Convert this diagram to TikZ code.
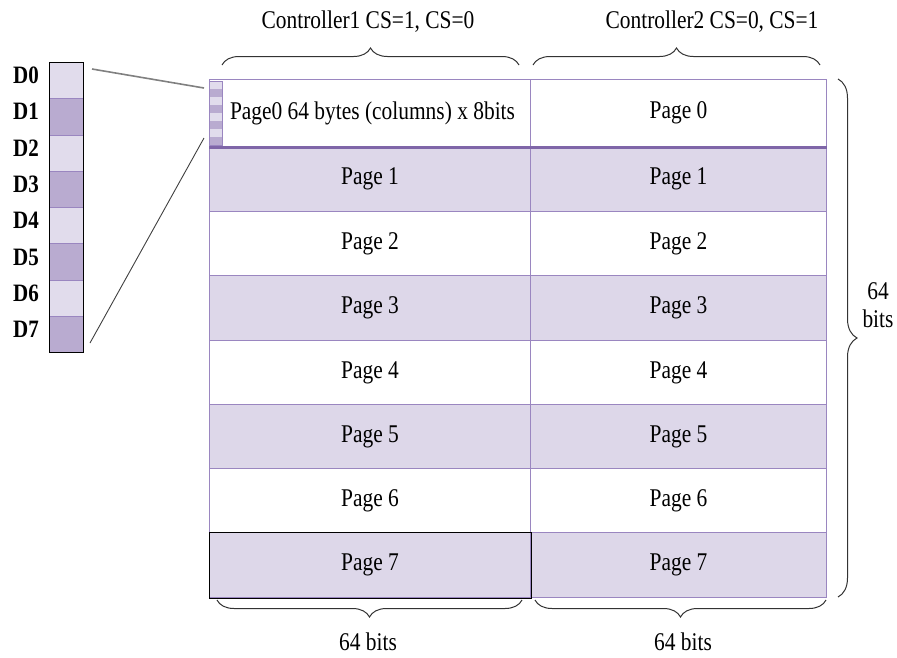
\documentclass[tikz,border=0pt]{standalone}
\usepackage{fontspec}
\setmainfont{Liberation Serif}[FakeStretch=0.84]
\usetikzlibrary{decorations.pathreplacing}
\definecolor{lightp}{HTML}{DDD7E9}
\definecolor{darkp}{HTML}{B9ABD0}
\definecolor{barlight}{HTML}{E1DCEC}
\definecolor{gridp}{HTML}{9A86C0}
\definecolor{thickp}{HTML}{7F66A8}
\definecolor{bracec}{HTML}{333333}
\begin{document}
\begin{tikzpicture}[x=1pt,y=-1pt,
  font=\fontsize{25.5}{28}\selectfont,
  cell/.style={draw=gridp, line width=1pt, anchor=north west, inner sep=0pt},
  barcell/.style={draw=gridp, line width=0.8pt, anchor=north west, inner sep=0pt, minimum width=34pt, minimum height=36.25pt},
  dlabel/.style={font=\fontsize{25}{28}\selectfont\bfseries},
  brace/.style={draw=bracec, line width=1pt, decoration={brace, amplitude=#1}, decorate},
  brace/.default=15pt,
  zoomline/.style={draw=#1}]
\useasboundingbox (0,0) rectangle (897,657);

% main grid
\node[cell, fill=white, minimum width=321pt, minimum height=67pt] (L0) at (209,79) {\hspace*{5pt}Page0 64 bytes (columns) x 8bits};
\node[cell, fill=white, minimum width=296pt, minimum height=67pt] (R0) at (530,79) {Page 0};
\foreach \i/\t/\b/\f in {1/146/211/lightp, 2/211/275/white, 3/275/340/lightp, 4/340/404/white, 5/404/468/lightp, 6/468/532/white, 7/532/597/lightp} {
  \node[cell, fill=\f, minimum width=321pt, minimum height={\b-\t}] (L\i) at (209,\t) {Page \i};
  \node[cell, fill=\f, minimum width=296pt, minimum height={\b-\t}] (R\i) at (530,\t) {Page \i};
}
\draw[thickp, line width=3pt] (L0.south west) -- (R0.south east);
\draw[black, line width=1pt] (L7.north west) rectangle (L7.south east);

% small stripes in page 0
\node[anchor=north west, inner sep=0pt, minimum width=13pt, minimum height=64pt] (S) at (209,81) {};
\foreach \k in {0,...,7} {
  \pgfmathsetmacro{\c}{mod(\k,2)==0 ? "barlight" : "darkp"}
  \fill[\c] (209,81+8*\k) rectangle (222,81+8*\k+8);
}
\draw[gridp, line width=0.6pt] (S.north west) rectangle (S.south east);

% data bit bar
\foreach \i in {0,...,7} {
  \pgfmathsetmacro{\c}{mod(\i,2)==0 ? "barlight" : "darkp"}
  \node[barcell, fill=\c] (B\i) at (49,62+36.25*\i) {};
  \node[dlabel] (D\i) at (26,75+36.4*\i) {D\i};
}
\draw[black, line width=1pt] (B0.north west) rectangle (B7.south east);

% zoom lines
\coordinate (p1) at (92,69);
\coordinate (q1) at (204,88);
\coordinate (p2) at (90,343);
\coordinate (q2) at (204,138);
\draw[zoomline=gray, line width=1.6pt] (p1) -- (q1);
\draw[zoomline=black!75, line width=0.9pt] (p2) -- (q2);

% braces
\draw[brace=17pt] (222,65) -- (519,65);
\draw[brace=17pt] (533,65) -- (820,65);
\node (C1) at (368,22) {Controller1 CS=1, CS=0};
\node (C2) at (712,22) {Controller2 CS=0, CS=1};

\draw[brace=17pt] (522,600) -- (217,600);
\draw[brace=17pt] (826,600) -- (535,600);
\node[inner sep=1pt] (W1) at (368,642) {64 bits};
\node[inner sep=1pt] (W2) at (683,642) {64 bits};

\draw[brace=19pt] (838,79) -- (838,597);
\node[align=center, font=\fontsize{25.5}{28}\selectfont] (H) at (878,305) {64\\bits};
\end{tikzpicture}
\end{document}
